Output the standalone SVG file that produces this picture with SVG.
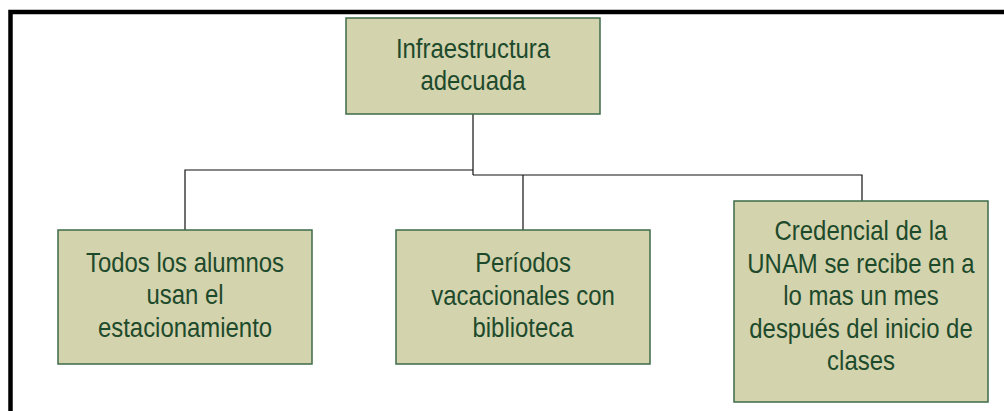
<svg xmlns="http://www.w3.org/2000/svg" width="1004" height="411" viewBox="0 0 1004 411">
<style>
.box{fill:#D3D3AD;stroke:#3E6B48;stroke-width:1.5}
.t{font-family:"Liberation Sans",Arial,sans-serif;font-size:27.5px;fill:#1E4A2C;text-anchor:middle}
.c{fill:none;stroke:#111;stroke-width:1.2}
.frame{fill:none;stroke:#000;stroke-width:4.5}
</style>
<rect width="1004" height="411" fill="#fff"/>
<path class="frame" d="M10.5 411 V12 H1004"/>
<g id="connectors">
<path class="c" d="M473 114 V175"/>
<path class="c" d="M185 230 V170 H473"/>
<path class="c" d="M473 175 H862 V201" stroke="#555"/>
<path class="c" d="M523 175 V230"/>
</g>
<g id="node-root">
<rect class="box" x="346" y="18" width="254" height="96"/>
<g transform="translate(473,0) scale(0.87,1)">
<text class="t" x="0" y="58">Infraestructura</text>
<text class="t" x="0" y="90.5">adecuada</text>
</g>
</g>
<g id="node-estacionamiento">
<rect class="box" x="58" y="230" width="254" height="134"/>
<g transform="translate(185,0) scale(0.87,1)">
<text class="t" x="0" y="272.5">Todos los alumnos</text>
<text class="t" x="0" y="304.5">usan el</text>
<text class="t" x="0" y="337">estacionamiento</text>
</g>
</g>
<g id="node-biblioteca">
<rect class="box" x="396" y="230" width="254" height="134"/>
<g transform="translate(523,0) scale(0.87,1)">
<text class="t" x="0" y="272.5">Períodos</text>
<text class="t" x="0" y="305">vacacionales con</text>
<text class="t" x="0" y="337">biblioteca</text>
</g>
</g>
<g id="node-credencial">
<rect class="box" x="734" y="201" width="254" height="201"/>
<g transform="translate(861,0) scale(0.87,1)">
<text class="t" x="0" y="240.5">Credencial de la</text>
<text class="t" x="0" y="273">UNAM se recibe en a</text>
<text class="t" x="0" y="305.5">lo mas un mes</text>
<text class="t" x="0" y="338">después del inicio de</text>
<text class="t" x="0" y="370">clases</text>
</g>
</g>
</svg>
